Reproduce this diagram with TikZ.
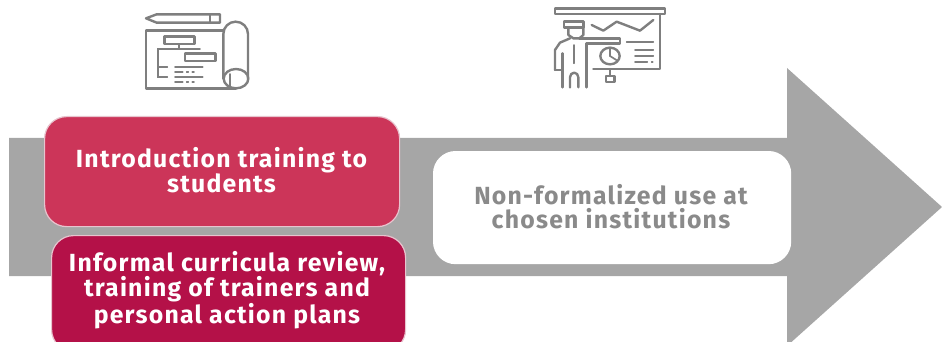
\documentclass[tikz,border=0pt]{standalone}
\usepackage{fontspec}
\setmainfont{Fira Sans}
\newcommand{\lbl}{\fontsize{24.8}{25}\selectfont\bfseries\addfontfeatures{LetterSpace=5}}
\newcommand{\lblb}{\fontsize{24.8}{24}\selectfont\bfseries\addfontfeatures{LetterSpace=5}}
\definecolor{iconc}{HTML}{7F7F7F}
\definecolor{arrowc}{HTML}{A6A6A6}
\definecolor{redA}{HTML}{CC3559}
\definecolor{redB}{HTML}{B41148}
\definecolor{edgeA}{HTML}{E8C4CE}
\definecolor{textg}{HTML}{8A8A8A}
\tikzset{
  boxa/.style={draw=#1, rounded corners=22pt, line width=1.2pt, inner sep=0pt, anchor=north west},
  lab/.style={align=center, inner sep=0pt, font=\lbl},
  labb/.style={align=center, inner sep=0pt, font=\lblb},
  icon/.style={draw=iconc, line width=2.4pt, line join=round, line cap=round},
  thinicon/.style={draw=iconc, line width=1.7pt, line cap=round},
}
\begin{document}
\begin{tikzpicture}[x=1pt,y=-1pt]
\useasboundingbox (0,0) rectangle (942,342);
\clip (0,0) rectangle (942,342);
% big arrow
\fill[arrowc] (9,138) -- (787,138) -- (787,68) -- (942,207) -- (787,346) -- (787,276) -- (9,276) -- cycle;
% boxes
\node[boxa=edgeA, fill=redA, minimum width=355pt, minimum height=110pt] (intro) at (44,116) {};
\node[lab, text=white] (introtext) at (221.5,170) {Introduction training to\\students};
\node[boxa=edgeA, fill=redB, minimum width=354pt, minimum height=116pt] (review) at (51,235) {};
\node[labb, text=white] (reviewtext) at (227,290) {Informal curricula review,\\training of trainers and\\personal action plans};
\node[boxa=white, fill=white, minimum width=357pt, minimum height=112pt] (use) at (433,151) {};
\node[labb, text=textg] (usetext) at (611,207) {Non-formalized use at\\chosen institutions};
% plan icon
\begin{scope}[shift={(130,0)},x=0.3333pt,y=-0.3333pt]
\draw[icon] (48,55) -- (80,43) -- (270,43) -- (270,68) -- (80,68) -- cycle;
\draw[thinicon] (240,43) -- (240,68);
\draw[icon] (280,92) -- (48,92) -- (48,265) -- (318,265);
\draw[icon] (280,236) -- (280,102) arc[start angle=180,end angle=360,x radius=37,y radius=37] -- (354,236);
\draw[icon] (318,236) ellipse[x radius=37,y radius=29];
\draw[thinicon] (300,222) -- (300,262);
\draw[icon] (103,110) rectangle (193,132);
\draw[icon] (165,160) rectangle (257,183);
\draw[thinicon] (148,132) -- (148,146);
\draw[thinicon] (210,146) -- (85,146) -- (85,232) -- (112,232) (85,200) -- (112,200);
\draw[thinicon] (135,200) -- (218,200) (135,232) -- (218,232);
\draw[thinicon] (135,215) -- (158,215) (170,215) -- (175,215) (187,215) -- (192,215);
\draw[thinicon] (135,246) -- (158,246) (170,246) -- (175,246) (187,246) -- (192,246);
\end{scope}
% presenter icon
\begin{scope}[shift={(540,0)},x=0.3333pt,y=-0.3333pt]
\draw[icon] (45,25) rectangle (375,42);
\draw[icon] (360,42) -- (360,207) -- (160,207);
\draw[icon] (155,75) -- (190,92) -- (230,65) -- (300,92) -- (340,60);
\draw[icon] (72,65) -- (130,65) -- (130,82) -- (72,82) -- cycle;
\draw[icon] (85,82) -- (85,105) -- (100,115) -- (118,115) -- (130,105) -- (130,82);
\draw[icon] (45,210) -- (45,150) -- (60,128) -- (90,115);
\draw[icon] (118,115) -- (240,115) -- (240,130) -- (140,130) -- (140,262);
\draw[icon] (68,160) -- (68,262);
\draw[icon] (45,210) -- (68,210);
\draw[icon] (90,262) -- (90,232) arc[start angle=180,end angle=360,x radius=12.5,y radius=14] -- (115,262);
\draw[thinicon] (103,135) -- (103,190);
\draw[thinicon] (260,125) -- (340,125) (285,150) -- (340,150) (285,168) -- (340,168) (285,187) -- (322,187) (335,187) -- (338,187);
\draw[icon] (210,168) ellipse[x radius=29,y radius=25];
\draw[thinicon] (210,143) -- (210,168) -- (232,182);
\draw[icon] (210,207) -- (210,228);
\draw[icon] (198,228) rectangle (224,246);
\end{scope}
\end{tikzpicture}
\end{document}
